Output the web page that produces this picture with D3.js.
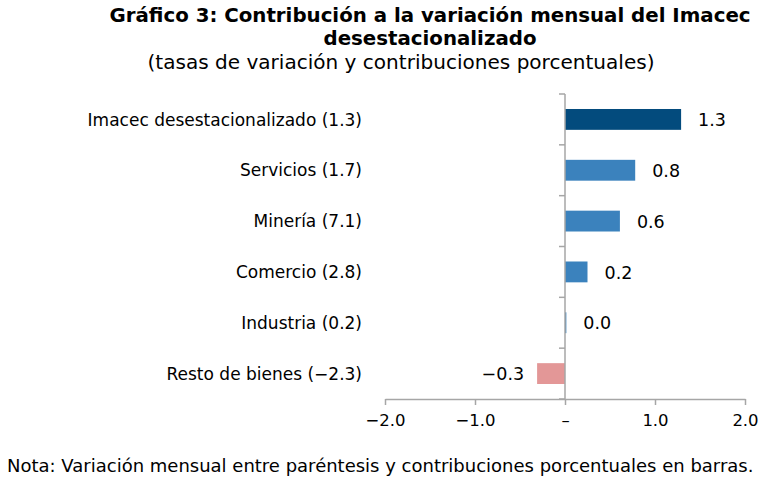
<!DOCTYPE html>
<html><head><meta charset="utf-8">
<script src="https://cdn.jsdelivr.net/npm/d3@7"></script>
<style>body{margin:0;background:#fff}svg{display:block}text{font-family:"DejaVu Sans",Verdana,sans-serif;fill:#000}</style>
</head><body>
<script>
const categories = ["Imacec desestacionalizado (1.3)","Servicios (1.7)","Minería (7.1)","Comercio (2.8)","Industria (0.2)","Resto de bienes (−2.3)"];
const values = [1.29, 0.78, 0.61, 0.25, 0.015, -0.31];
const valueLabels = ["1.3","0.8","0.6","0.2","0.0","−0.3"];
const tickValues = [-2, -1, 0, 1, 2];
const tickLabels = ["−2.0","−1.0","–","1.0","2.0"];
const titleLines = ["Gráfico 3: Contribución a la variación mensual del Imacec","desestacionalizado"];
const subtitle = "(tasas de variación y contribuciones porcentuales)";
const note = "Nota: Variación mensual entre paréntesis y contribuciones porcentuales en barras.";

const W = 768, H = 478;
const svg = d3.select("body").append("svg").attr("width", W).attr("height", H);

const x = d3.scaleLinear().domain([-2, 2]).range([385, 745]);
const y = d3.scaleBand().domain(categories).range([94, 399]).paddingInner(0.59).paddingOuter(0.295);
const yStep = d3.scaleBand().domain(categories).range([94, 399]);

// Title
svg.append("text").attr("x", 430).attr("y", 22).attr("text-anchor", "middle")
  .style("font-weight", "bold").style("font-size", "19.8px").text(titleLines[0]);
svg.append("text").attr("x", 430).attr("y", 45).attr("text-anchor", "middle")
  .style("font-weight", "bold").style("font-size", "19.8px").text(titleLines[1]);
svg.append("text").attr("x", 401).attr("y", 69).attr("text-anchor", "middle")
  .style("font-size", "19px").attr("textLength", 507).attr("lengthAdjust", "spacingAndGlyphs").text(subtitle);

// Bars
const colors = ["#034b7d", "#3b82bd", "#3b82bd", "#3b82bd", "#3b82bd", "#e39797"];
svg.selectAll("rect.bar").data(values).join("rect").attr("class", "bar")
  .attr("x", d => x(Math.min(0, d)))
  .attr("width", d => Math.abs(x(d) - x(0)))
  .attr("y", (d, i) => y(categories[i]))
  .attr("height", y.bandwidth())
  .attr("fill", (d, i) => colors[i]);

// Value labels
svg.selectAll("text.val").data(values).join("text").attr("class", "val")
  .attr("x", d => d >= 0 ? x(d) + 17 : x(d) - 13)
  .attr("y", (d, i) => y(categories[i]) + y.bandwidth() / 2)
  .attr("dy", "0.38em")
  .attr("text-anchor", d => d >= 0 ? "start" : "end")
  .style("font-size", "17.5px")
  .text((d, i) => valueLabels[i]);

// Category labels
svg.selectAll("text.cat").data(categories).join("text").attr("class", "cat")
  .attr("x", 362)
  .attr("y", d => y(d) + y.bandwidth() / 2)
  .attr("dy", "0.36em")
  .attr("text-anchor", "end")
  .style("font-size", "17px")
  .text(d => d);

// X axis
const xAxis = d3.axisBottom(x).tickValues(tickValues).tickSize(6).tickSizeOuter(0)
  .tickFormat((d, i) => tickLabels[i]).tickPadding(9);
const gx = svg.append("g").attr("transform", "translate(0,399)").call(xAxis);
gx.select(".domain").attr("stroke", "#a6a6a6").attr("stroke-width", 1.5);
gx.selectAll(".tick line").attr("stroke", "#a6a6a6").attr("stroke-width", 1.5);
gx.selectAll(".tick text").style("font-size", "16.5px").style("font-family", "DejaVu Sans, Verdana, sans-serif").attr("fill", "#000");

// Y axis line at zero with ticks at band boundaries
const gy = svg.append("g");
gy.append("line").attr("x1", x(0)).attr("x2", x(0)).attr("y1", 94).attr("y2", 399)
  .attr("stroke", "#a6a6a6").attr("stroke-width", 1.5);
const bounds = categories.map(c => yStep(c)).concat([399]);
gy.selectAll("line.yt").data(bounds).join("line").attr("class", "yt")
  .attr("x1", x(0) - 6).attr("x2", x(0)).attr("y1", d => d).attr("y2", d => d)
  .attr("stroke", "#a6a6a6").attr("stroke-width", 1.5);

// Note
svg.append("text").attr("x", 7).attr("y", 472).style("font-size", "18px").text(note);
</script>
</body></html>
